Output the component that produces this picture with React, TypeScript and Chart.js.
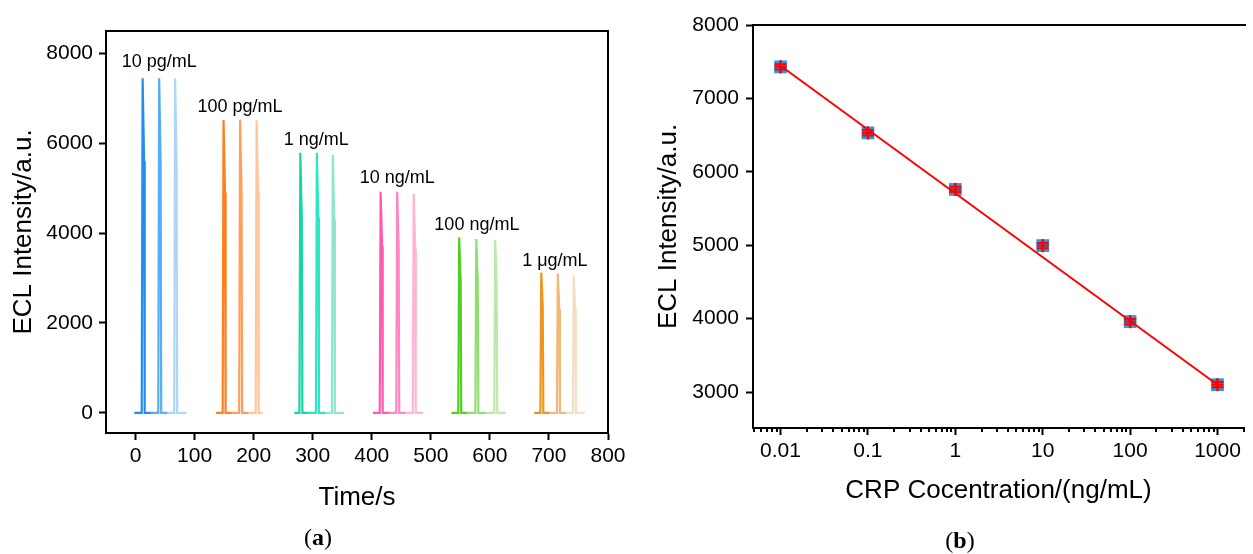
import React, { useEffect, useRef } from 'react';
import { Chart, registerables } from 'chart.js';

Chart.register(...registerables);

const FONT = "'Liberation Sans', Arial, Helvetica, sans-serif";

// ---------- Panel (a): ECL transients ----------
const timeTicks = [0, 100, 200, 300, 400, 500, 600, 700, 800];
const intensityTicksA = [0, 2000, 4000, 6000, 8000];

const groupLabels = ['10 pg/mL', '100 pg/mL', '1 ng/mL', '10 ng/mL', '100 ng/mL', '1 μg/mL'];
const labelTimes = [40, 177, 306, 443, 578, 710];
const labelIntensities = [7810, 6808, 6073, 5227, 4181, 3379];

const pg10Runs = [
  [[-2, 0], [10.5, 0], [12, 7450], [14.5, 5600], [15.5, 0], [26, 0]],
  [[26, 0], [38.5, 0], [40, 7450], [42.5, 5600], [43.5, 0], [54, 0]],
  [[54, 0], [65.5, 0], [67, 7440], [69.5, 5600], [70.5, 0], [86, 0]],
];
const pg100Runs = [
  [[136, 0], [147.5, 0], [149, 6520], [151.5, 4900], [152.5, 0], [163, 0]],
  [[163, 0], [175.5, 0], [177, 6520], [179.5, 4900], [180.5, 0], [191, 0]],
  [[191, 0], [203.5, 0], [205, 6510], [207.5, 4900], [208.5, 0], [215, 0]],
];
const ng1Runs = [
  [[269, 0], [277.5, 0], [279, 5790], [281.5, 4350], [282.5, 0], [293, 0]],
  [[293, 0], [305.5, 0], [307, 5790], [309.5, 4350], [310.5, 0], [321, 0]],
  [[321, 0], [332.5, 0], [334, 5740], [336.5, 4300], [337.5, 0], [353, 0]],
];
const ng10Runs = [
  [[402, 0], [413.5, 0], [415, 4920], [417.5, 3700], [418.5, 0], [429, 0]],
  [[429, 0], [441.5, 0], [443, 4920], [445.5, 3700], [446.5, 0], [457, 0]],
  [[457, 0], [469.5, 0], [471, 4870], [473.5, 3650], [474.5, 0], [487, 0]],
];
const ng100Runs = [
  [[535, 0], [546.5, 0], [548, 3900], [550.5, 2900], [551.5, 0], [562, 0]],
  [[562, 0], [575.5, 0], [577, 3870], [579.5, 2900], [580.5, 0], [593, 0]],
  [[593, 0], [607.5, 0], [609, 3850], [611.5, 2850], [612.5, 0], [627, 0]],
];
const ug1Runs = [
  [[675, 0], [685.5, 0], [687, 3120], [689.5, 2350], [690.5, 0], [701, 0]],
  [[701, 0], [713.5, 0], [715, 3100], [717.5, 2300], [718.5, 0], [729, 0]],
  [[729, 0], [740.5, 0], [742, 3060], [744.5, 2300], [745.5, 0], [761, 0]],
];

const pg10Colors = ['#1e8ff0', '#55adf4', '#aed6f9'];
const pg100Colors = ['#ff7f1e', '#ff9f5c', '#ffc59c'];
const ng1Colors = ['#16d6a6', '#2de6c2', '#8fe6cf'];
const ng10Colors = ['#ff5aab', '#ff86c1', '#ffb4d7'];
const ng100Colors = ['#4fcf1e', '#8fdf6e', '#bce8a8'];
const ug1Colors = ['#ef941c', '#f3b879', '#f4dfc4'];

// ---------- Panel (b): calibration ----------
const concentrations = [0.01, 0.1, 1, 10, 100, 1000];
const meanIntensity = [7430, 6530, 5760, 4995, 3960, 3100];
const errIntensity = [35, 35, 35, 35, 35, 35];
const fitConc = [0.01, 1000];
const fitIntensity = [7445, 3100];
const concTicks = [0.01, 0.1, 1, 10, 100, 1000];
const intensityTicksB = [3000, 4000, 5000, 6000, 7000, 8000];

const toXY = (pts: number[][]) => pts.map(([x, y]) => ({ x, y }));

const axisBorder = { display: true, color: '#000', width: 2 };
const tickGrid = { drawOnChartArea: false, drawTicks: true, tickLength: 7, tickWidth: 2, tickColor: '#000' };

const frameA = {
  id: 'frameA',
  afterDraw(chart: any) {
    const { ctx, chartArea: ca } = chart;
    ctx.save();
    ctx.strokeStyle = '#000';
    ctx.lineWidth = 2;
    ctx.beginPath();
    ctx.moveTo(ca.left - 1, ca.top);
    ctx.lineTo(ca.right, ca.top);
    ctx.lineTo(ca.right, ca.bottom + 1);
    ctx.stroke();
    ctx.restore();
  },
};

const labelsA = {
  id: 'labelsA',
  afterDatasetsDraw(chart: any) {
    const { ctx, scales } = chart;
    ctx.save();
    ctx.font = `18px ${FONT}`;
    ctx.fillStyle = '#000';
    ctx.textAlign = 'center';
    ctx.textBaseline = 'middle';
    groupLabels.forEach((t, i) => {
      ctx.fillText(t, scales.x.getPixelForValue(labelTimes[i]), scales.y.getPixelForValue(labelIntensities[i]));
    });
    ctx.restore();
  },
};

const frameB = {
  id: 'frameB',
  afterDraw(chart: any) {
    const { ctx, chartArea: ca, scales } = chart;
    ctx.save();
    ctx.strokeStyle = '#000';
    ctx.lineWidth = 2;
    ctx.beginPath();
    ctx.moveTo(ca.left - 1, ca.top);
    ctx.lineTo(ca.right + 2, ca.top);
    ctx.stroke();
    // minor log ticks
    const x = scales.x;
    ctx.beginPath();
    for (let d = -3; d <= 3; d++) {
      for (let m = 2; m <= 9; m++) {
        const v = m * Math.pow(10, d);
        if (v < x.min || v > x.max) continue;
        const px = Math.round(x.getPixelForValue(v));
        ctx.moveTo(px, ca.bottom);
        ctx.lineTo(px, ca.bottom + 4);
      }
    }
    ctx.stroke();
    ctx.restore();
  },
};

const errorBarsB = {
  id: 'errorBarsB',
  afterDatasetsDraw(chart: any) {
    const { ctx, scales } = chart;
    ctx.save();
    ctx.strokeStyle = '#ff0000';
    ctx.lineWidth = 2;
    concentrations.forEach((c, i) => {
      const px = scales.x.getPixelForValue(c);
      const top = scales.y.getPixelForValue(meanIntensity[i] + errIntensity[i]);
      const bot = scales.y.getPixelForValue(meanIntensity[i] - errIntensity[i]);
      ctx.beginPath();
      ctx.moveTo(px - 6, top);
      ctx.lineTo(px + 6, top);
      ctx.moveTo(px - 6, bot);
      ctx.lineTo(px + 6, bot);
      ctx.moveTo(px, top - 4);
      ctx.lineTo(px, bot + 4);
      ctx.stroke();
    });
    ctx.restore();
  },
};

export default function App() {
  const refA = useRef<HTMLCanvasElement>(null);
  const refB = useRef<HTMLCanvasElement>(null);

  useEffect(() => {
    const runs = [...pg10Runs, ...pg100Runs, ...ng1Runs, ...ng10Runs, ...ng100Runs, ...ug1Runs];
    const colors = [...pg10Colors, ...pg100Colors, ...ng1Colors, ...ng10Colors, ...ng100Colors, ...ug1Colors];

    const chartA = new Chart(refA.current as HTMLCanvasElement, {
      type: 'scatter',
      data: {
        datasets: runs.map((pts, i) => ({
          data: toXY(pts),
          showLine: true,
          borderColor: colors[i],
          backgroundColor: colors[i],
          borderWidth: 2.2,
          pointRadius: 0,
          tension: 0,
          fill: false,
        })),
      },
      options: {
        responsive: false,
        animation: false,
        events: [],
        layout: { padding: { top: 31, right: 32, left: 0, bottom: 0 } },
        plugins: { legend: { display: false }, tooltip: { enabled: false } },
        scales: {
          x: {
            type: 'linear',
            min: -50,
            max: 800,
            afterBuildTicks: (s: any) => { s.ticks = timeTicks.map((v) => ({ value: v })); },
            afterFit: (s: any) => { s.height = 121; },
            border: axisBorder,
            grid: tickGrid,
            ticks: { color: '#000', font: { size: 21, family: FONT }, padding: 4, maxRotation: 0, autoSkip: false, callback: (v: any) => String(v) },
            title: { display: true, text: 'Time/s', color: '#000', font: { size: 26, family: FONT }, padding: { top: 0, bottom: 41 } },
          },
          y: {
            type: 'linear',
            min: -450,
            max: 8500,
            afterBuildTicks: (s: any) => { s.ticks = intensityTicksA.map((v) => ({ value: v })); },
            afterFit: (s: any) => { s.width = 106; },
            border: axisBorder,
            grid: tickGrid,
            ticks: { color: '#000', font: { size: 21, family: FONT }, padding: 6, autoSkip: false, callback: (v: any) => String(v) },
            title: { display: true, text: 'ECL Intensity/a.u.', color: '#000', font: { size: 26, family: FONT }, padding: { top: 8, bottom: 0 } },
          },
        },
      },
      plugins: [frameA, labelsA],
    } as any);

    const chartB = new Chart(refB.current as HTMLCanvasElement, {
      type: 'scatter',
      data: {
        datasets: [
          {
            data: concentrations.map((c, i) => ({ x: c, y: meanIntensity[i] })),
            showLine: false,
            pointStyle: 'cross',
            pointRadius: 6,
            pointBorderWidth: 2,
            borderColor: '#ff0000',
            backgroundColor: '#ff0000',
          },
          {
            data: fitConc.map((c, i) => ({ x: c, y: fitIntensity[i] })),
            showLine: true,
            borderColor: '#ff0000',
            backgroundColor: '#ff0000',
            borderWidth: 2,
            pointRadius: 0,
            tension: 0,
          },
          {
            data: concentrations.map((c, i) => ({ x: c, y: meanIntensity[i] })),
            showLine: false,
            pointStyle: 'rect',
            pointRadius: 9,
            pointBorderWidth: 0,
            borderColor: '#1f9de8',
            backgroundColor: '#1f9de8',
          },
        ],
      },
      options: {
        responsive: false,
        animation: false,
        events: [],
        layout: { padding: { top: 25, right: 0, left: 0, bottom: 0 } },
        plugins: { legend: { display: false }, tooltip: { enabled: false } },
        scales: {
          x: {
            type: 'logarithmic',
            min: 0.00484,
            max: 2010,
            afterBuildTicks: (s: any) => { s.ticks = concTicks.map((v) => ({ value: v })); },
            afterFit: (s: any) => { s.height = 126; },
            border: axisBorder,
            grid: tickGrid,
            ticks: { color: '#000', font: { size: 21, family: FONT }, padding: 4, maxRotation: 0, autoSkip: false, callback: (v: any) => String(v) },
            title: { display: true, text: 'CRP Cocentration/(ng/mL)', color: '#000', font: { size: 26, family: FONT }, padding: { top: 0, bottom: 48 } },
          },
          y: {
            type: 'linear',
            min: 2510,
            max: 8000,
            afterBuildTicks: (s: any) => { s.ticks = intensityTicksB.map((v) => ({ value: v })); },
            afterFit: (s: any) => { s.width = 113; },
            border: axisBorder,
            grid: tickGrid,
            ticks: { color: '#000', font: { size: 21, family: FONT }, padding: 7, autoSkip: false, callback: (v: any) => String(v) },
            title: { display: true, text: 'ECL Intensity/a.u.', color: '#000', font: { size: 26, family: FONT }, padding: { top: 13, bottom: 0 } },
          },
        },
      },
      plugins: [frameB, errorBarsB],
    } as any);

    return () => {
      chartA.destroy();
      chartB.destroy();
    };
  }, []);

  const captionStyle: React.CSSProperties = {
    position: 'absolute',
    fontFamily: "'Liberation Serif', 'Times New Roman', serif",
    fontSize: 24,
    color: '#000',
    transform: 'translate(-50%, -50%)',
    whiteSpace: 'nowrap',
  };

  return (
    <div style={{ position: 'absolute', left: 0, top: 0, width: 1253, height: 554, background: '#fff', overflow: 'hidden' }}>
      <canvas ref={refA} width={640} height={554} style={{ position: 'absolute', left: 0, top: 0 }} />
      <canvas ref={refB} width={613} height={554} style={{ position: 'absolute', left: 640, top: 0 }} />
      <div style={{ ...captionStyle, left: 318, top: 537 }}>(<b>a</b>)</div>
      <div style={{ ...captionStyle, left: 960, top: 540 }}>(<b>b</b>)</div>
    </div>
  );
}
